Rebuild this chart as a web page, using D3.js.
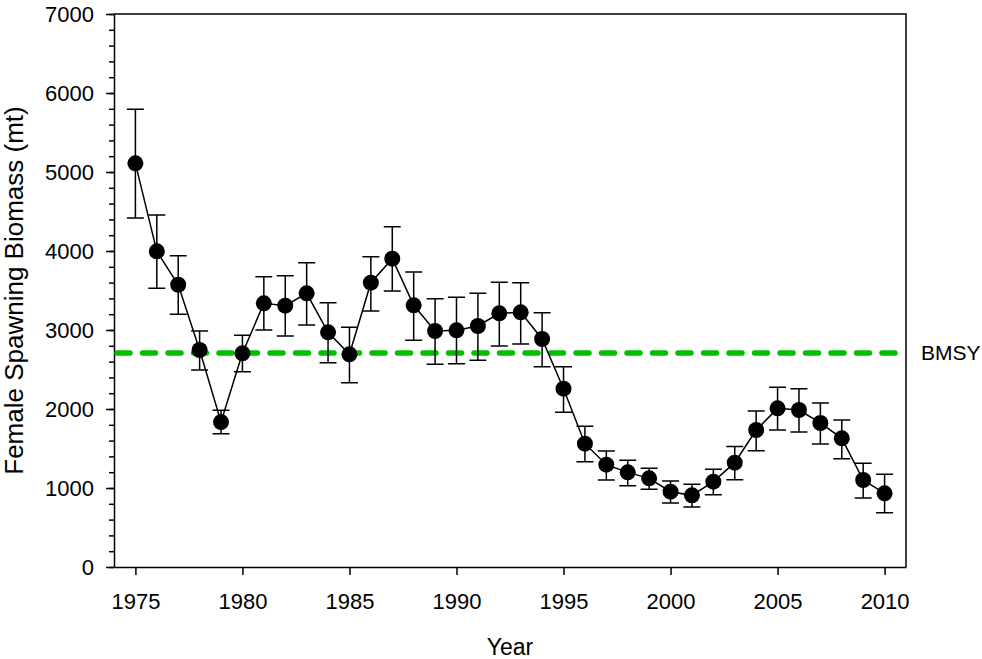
<!DOCTYPE html>
<html>
<head>
<meta charset="utf-8">
<script src="https://cdn.jsdelivr.net/npm/d3@7"></script>
<style>
  body { margin: 0; background: #fff; }
  svg { display: block; font-family: "Liberation Sans", Arial, sans-serif; }
  .axis path, .axis line { stroke: #000; stroke-width: 1.5px; }
  .axis text { font-family: "Liberation Sans", Arial, sans-serif; font-size: 22px; fill: #000; }
</style>
</head>
<body>
<svg id="chart" width="982" height="659"></svg>
<script>
const years = d3.range(1975, 2011);
const biomass = [5110, 3996, 3573, 2747, 1835, 2705, 3338, 3308, 3464, 2970, 2692, 3599, 3903, 3312, 2987, 2996, 3051, 3211, 3224, 2886, 2257, 1561, 1295, 1198, 1122, 953, 907, 1080, 1321, 1734, 2008, 1987, 1823, 1629, 1101, 933];
const upper = [5793, 4456, 3941, 2987, 1983, 2933, 3675, 3688, 3852, 3346, 3034, 3928, 4308, 3734, 3397, 3413, 3464, 3603, 3599, 3219, 2536, 1781, 1468, 1350, 1249, 1089, 1046, 1236, 1524, 1975, 2274, 2257, 2076, 1861, 1312, 1173];
const lower = [4418, 3528, 3198, 2494, 1688, 2473, 3000, 2924, 3063, 2586, 2333, 3241, 3494, 2869, 2565, 2574, 2616, 2797, 2823, 2536, 1958, 1333, 1101, 1030, 983, 810, 759, 915, 1105, 1472, 1734, 1709, 1557, 1371, 873, 687];
const bmsy = 2710;
const xTicks = [1975, 1980, 1985, 1990, 1995, 2000, 2005, 2010];
const yTicks = [0, 1000, 2000, 3000, 4000, 5000, 6000, 7000];

const LEFT = 114, RIGHT = 906, TOP = 14, BOTTOM = 567;
const CAP = 8.5;

const data = years.map((y, i) => ({ year: y, value: biomass[i], hi: upper[i], lo: lower[i] }));

const svg = d3.select('svg#chart');

const x = d3.scaleLinear().domain([1974, 2011]).range([LEFT, RIGHT]);
const y = d3.scaleLinear().domain([0, 7000]).range([BOTTOM, TOP]);

// frame top and right
svg.append('path')
  .attr('d', `M${LEFT},${TOP}H${RIGHT}V${BOTTOM}`)
  .attr('fill', 'none')
  .attr('stroke', '#000')
  .attr('stroke-width', 1.5);

// minor y ticks
svg.append('g')
  .attr('class', 'axis')
  .attr('transform', `translate(${LEFT},0)`)
  .call(d3.axisLeft(y).tickValues(d3.range(0, 7001, 200)).tickSize(5).tickFormat(''))
  .call(g => g.select('.domain').remove());

svg.append('g')
  .attr('class', 'axis')
  .attr('transform', `translate(${LEFT},0)`)
  .call(d3.axisLeft(y).tickValues(yTicks).tickSize(8).tickPadding(12).tickSizeOuter(0).tickFormat(d3.format('d')));

svg.append('g')
  .attr('class', 'axis')
  .attr('transform', `translate(0,${BOTTOM})`)
  .call(d3.axisBottom(x).tickValues(xTicks).tickSize(8).tickPadding(18).tickSizeOuter(0).tickFormat(d3.format('d')));

// BMSY reference line
svg.append('line')
  .attr('x1', LEFT + 3)
  .attr('x2', RIGHT - 6)
  .attr('y1', y(bmsy))
  .attr('y2', y(bmsy))
  .attr('stroke', '#00c000')
  .attr('stroke-width', 5.5)
  .attr('stroke-linecap', 'round')
  .attr('stroke-dasharray', '13,12.5');

svg.append('text')
  .attr('x', 921)
  .attr('y', y(bmsy) + 7)
  .attr('font-size', '21px')
  .text('BMSY');

// error bars
const bars = svg.append('g')
  .attr('stroke', '#000')
  .attr('stroke-width', 1.5)
  .attr('fill', 'none');

bars.selectAll('path')
  .data(data)
  .enter()
  .append('path')
  .attr('d', d => `M${x(d.year) - CAP},${y(d.hi)}H${x(d.year) + CAP}M${x(d.year)},${y(d.hi)}V${y(d.lo)}M${x(d.year) - CAP},${y(d.lo)}H${x(d.year) + CAP}`);

svg.append('path')
  .datum(data)
  .attr('fill', 'none')
  .attr('stroke', '#000')
  .attr('stroke-width', 1.5)
  .attr('d', d3.line().x(d => x(d.year)).y(d => y(d.value)));

svg.selectAll('circle')
  .data(data)
  .enter()
  .append('circle')
  .attr('cx', d => x(d.year))
  .attr('cy', d => y(d.value))
  .attr('r', 8)
  .attr('fill', '#000');

// axis titles
svg.append('text')
  .attr('x', (LEFT + RIGHT) / 2)
  .attr('y', 655)
  .attr('text-anchor', 'middle')
  .attr('font-size', '23px')
  .text('Year');

svg.append('text')
  .attr('transform', `translate(23,${(TOP + BOTTOM) / 2}) rotate(-90)`)
  .attr('text-anchor', 'middle')
  .attr('font-size', '26px')
  .text('Female Spawning Biomass (mt)');
</script>
</body>
</html>
